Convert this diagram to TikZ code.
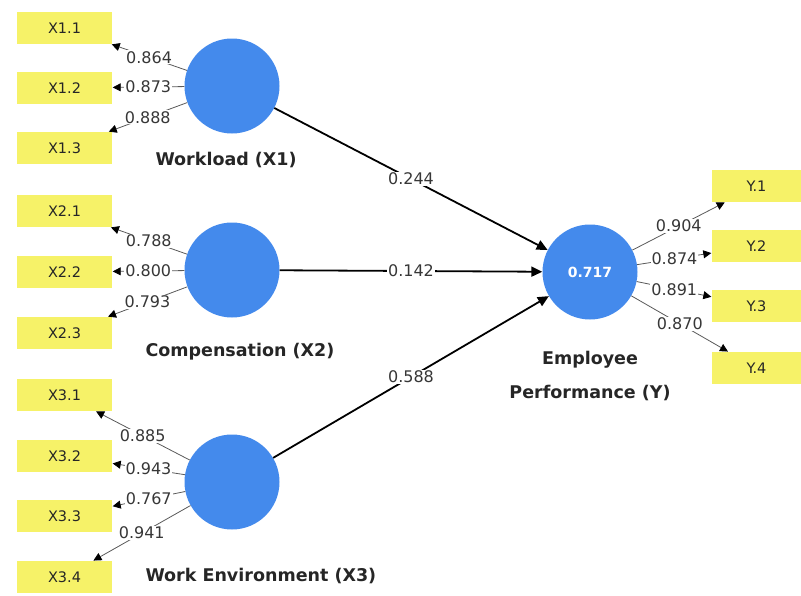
\documentclass[tikz,border=0pt]{standalone}
\usepackage{fontspec}
\setmainfont{DejaVu Sans}
\usetikzlibrary{arrows.meta}
\definecolor{lvblue}{RGB}{68,138,236}
\definecolor{mvyellow}{RGB}{246,242,104}
\definecolor{lblgray}{RGB}{55,55,55}
\begin{document}
\begin{tikzpicture}[x=1pt,y=-1pt,
  mv/.style={fill=mvyellow,draw=none,minimum width=95pt,minimum height=32pt,inner sep=0pt,font=\fontsize{14.5}{14.5}\selectfont,text=black!85},
  mvr/.style={mv,minimum width=89pt},
  lv/.style={circle,fill=lvblue,draw=none,minimum size=95pt,inner sep=0pt,font=\bfseries\fontsize{14}{14}\selectfont,text=white},
  lvname/.style={font=\bfseries\fontsize{17.5}{17.5}\selectfont,text=black!85,anchor=west},
  load/.style={draw=black!65,line width=0.8pt,-{Triangle[length=8pt,width=8pt,color=black]},shorten >=0.5pt},
  path/.style={draw=black,line width=1.8pt,-{Triangle[length=11pt,width=10pt]}},
  lbl/.style={fill=white,inner sep=1pt,text=lblgray,font=\fontsize{16}{16}\selectfont}]
\useasboundingbox (0,0) rectangle (801,595);
% latent variables
\node[lv] (X1) at (232,86) {};
\node[lv] (X2) at (232,270) {};
\node[lv] (X3) at (232,482) {};
\node[lv] (Y) at (590,272) {0.717};
% names
\node[lvname] (nX1) at (152,160) {Workload (X1)};
\node[lvname] (nX2) at (142,352) {Compensation (X2)};
\node[lvname] (nX3) at (142,576) {Work Environment (X3)};
\node[lvname,anchor=center] (nY1) at (590,360) {Employee};
\node[lvname,anchor=center] (nY2) at (590,393) {Performance (Y)};
% indicators
\node[mv] (x11) at (64.5,28) {X1.1};
\node[mv] (x12) at (64.5,88) {X1.2};
\node[mv] (x13) at (64.5,148) {X1.3};
\node[mv] (x21) at (64.5,211) {X2.1};
\node[mv] (x22) at (64.5,272) {X2.2};
\node[mv] (x23) at (64.5,333) {X2.3};
\node[mv] (x31) at (64.5,395) {X3.1};
\node[mv] (x32) at (64.5,456) {X3.2};
\node[mv] (x33) at (64.5,516) {X3.3};
\node[mv] (x34) at (64.5,577) {X3.4};
\node[mvr] (y1) at (756.5,186) {Y.1};
\node[mvr] (y2) at (756.5,246) {Y.2};
\node[mvr] (y3) at (756.5,306) {Y.3};
\node[mvr] (y4) at (756.5,368) {Y.4};
% loadings
\draw[load] (X1) -- node[lbl]{0.864} (x11);
\draw[load] (X1) -- node[lbl]{0.873} (x12);
\draw[load] (X1) -- node[lbl]{0.888} (x13);
\draw[load] (X2) -- node[lbl]{0.788} (x21);
\draw[load] (X2) -- node[lbl]{0.800} (x22);
\draw[load] (X2) -- node[lbl]{0.793} (x23);
\draw[load] (X3) -- node[lbl]{0.885} (x31);
\draw[load] (X3) -- node[lbl]{0.943} (x32);
\draw[load] (X3) -- node[lbl]{0.767} (x33);
\draw[load] (X3) -- node[lbl]{0.941} (x34);
\draw[load] (Y) -- node[lbl]{0.904} (y1);
\draw[load] (Y) -- node[lbl]{0.874} (y2);
\draw[load] (Y) -- node[lbl]{0.891} (y3);
\draw[load] (Y) -- node[lbl]{0.870} (y4);
% structural paths
\draw[path] (X1) -- node[lbl]{0.244} (Y);
\draw[path] (X2) -- node[lbl]{0.142} (Y);
\draw[path] (X3) -- node[lbl]{0.588} (Y);
\end{tikzpicture}
\end{document}
